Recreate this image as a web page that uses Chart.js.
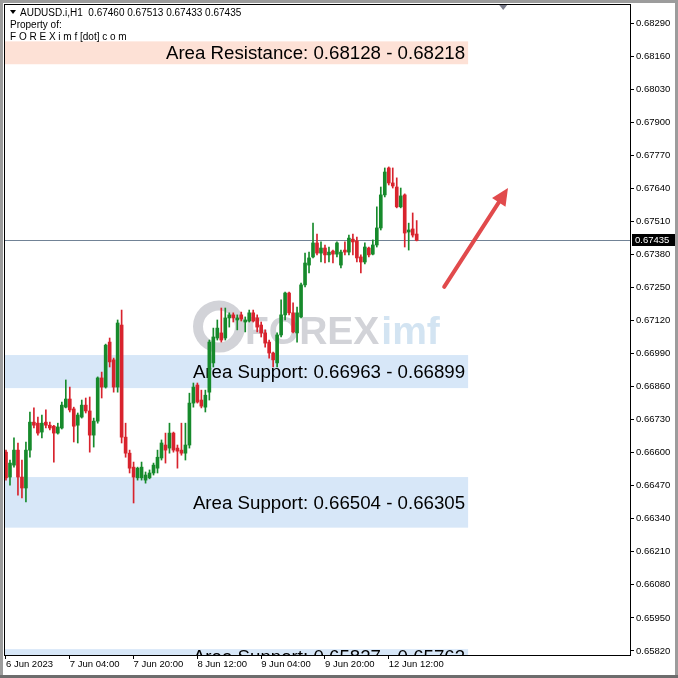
<!DOCTYPE html>
<html>
<head>
<meta charset="utf-8">
<script src="https://cdn.jsdelivr.net/npm/chart.js@4.4.1/dist/chart.umd.min.js"></script>
<style>
html, body { margin: 0; padding: 0; background: #fff; }
canvas { display: block; }
</style>
</head>
<body>
<canvas id="chart" width="678" height="678"></canvas>
<script>
// hourly AUDUSD candles, 6 Jun 12:00 -> 12 Jun 19:00
const opens = [
  0.66602, 0.66504, 0.66551, 0.66610, 0.66504, 0.66461, 0.66610, 0.66720, 0.66716, 0.66681,
  0.66720, 0.66708, 0.66704, 0.66677, 0.66697, 0.66779, 0.66811, 0.66772, 0.66708, 0.66740,
  0.66787, 0.66764, 0.66669, 0.66724, 0.66894, 0.66858, 0.67035, 0.66965, 0.66858, 0.67102,
  0.66661, 0.66598, 0.66543, 0.66501, 0.66501, 0.66492, 0.66501, 0.66520, 0.66539, 0.66579,
  0.66630, 0.66618, 0.66677, 0.66618, 0.66610, 0.66598, 0.66630, 0.66795, 0.66866, 0.66807,
  0.66779, 0.66838, 0.66953, 0.67051, 0.67071, 0.67051, 0.67130, 0.67142, 0.67122, 0.67142,
  0.67114, 0.67118, 0.67150, 0.67130, 0.67102, 0.67071, 0.67035, 0.66992, 0.66953, 0.67063,
  0.67142, 0.67228, 0.67150, 0.67071, 0.67134, 0.67260, 0.67338, 0.67370, 0.67425, 0.67385,
  0.67405, 0.67378, 0.67393, 0.67381, 0.67338, 0.67397, 0.67389, 0.67440, 0.67433, 0.67370,
  0.67350, 0.67405, 0.67381, 0.67417, 0.67484, 0.67614, 0.67720, 0.67661, 0.67645, 0.67567,
  0.67614, 0.67468, 0.67480, 0.67460
];
const highs = [
  0.66610, 0.66571, 0.66658, 0.66638, 0.66571, 0.66642, 0.66760, 0.66776, 0.66740, 0.66748,
  0.66768, 0.66720, 0.66708, 0.66716, 0.66799, 0.66886, 0.66858, 0.66779, 0.66756, 0.66807,
  0.66815, 0.66819, 0.66736, 0.66898, 0.66917, 0.67027, 0.67051, 0.66972, 0.67122, 0.67161,
  0.66716, 0.66610, 0.66563, 0.66543, 0.66563, 0.66524, 0.66532, 0.66559, 0.66610, 0.66650,
  0.66677, 0.66716, 0.66681, 0.66630, 0.66716, 0.66716, 0.66834, 0.66874, 0.66874, 0.66846,
  0.66846, 0.67043, 0.67090, 0.67122, 0.67169, 0.67169, 0.67150, 0.67150, 0.67142, 0.67153,
  0.67134, 0.67161, 0.67161, 0.67142, 0.67114, 0.67083, 0.67043, 0.66996, 0.67071, 0.67201,
  0.67232, 0.67232, 0.67189, 0.67173, 0.67267, 0.67385, 0.67389, 0.67503, 0.67460, 0.67429,
  0.67417, 0.67409, 0.67397, 0.67429, 0.67397, 0.67429, 0.67456, 0.67460, 0.67448, 0.67378,
  0.67425, 0.67409, 0.67437, 0.67567, 0.67645, 0.67720, 0.67724, 0.67720, 0.67681, 0.67641,
  0.67618, 0.67503, 0.67543, 0.67513
];
const lows = [
  0.66492, 0.66472, 0.66543, 0.66433, 0.66422, 0.66406, 0.66582, 0.66697, 0.66669, 0.66658,
  0.66697, 0.66689, 0.66563, 0.66673, 0.66693, 0.66776, 0.66760, 0.66642, 0.66638, 0.66736,
  0.66756, 0.66602, 0.66622, 0.66716, 0.66815, 0.66854, 0.66937, 0.66838, 0.66838, 0.66638,
  0.66582, 0.66520, 0.66402, 0.66492, 0.66492, 0.66480, 0.66497, 0.66512, 0.66520, 0.66571,
  0.66559, 0.66598, 0.66602, 0.66539, 0.66590, 0.66571, 0.66618, 0.66779, 0.66795, 0.66776,
  0.66760, 0.66807, 0.66937, 0.67043, 0.67035, 0.67043, 0.67094, 0.67114, 0.67083, 0.67118,
  0.67075, 0.67114, 0.67114, 0.67075, 0.67055, 0.67015, 0.66972, 0.66937, 0.66937, 0.67055,
  0.67122, 0.67142, 0.67071, 0.67035, 0.67130, 0.67252, 0.67307, 0.67366, 0.67378, 0.67350,
  0.67346, 0.67350, 0.67346, 0.67370, 0.67327, 0.67378, 0.67378, 0.67378, 0.67350, 0.67307,
  0.67342, 0.67370, 0.67378, 0.67409, 0.67476, 0.67606, 0.67653, 0.67641, 0.67563, 0.67563,
  0.67409, 0.67397, 0.67448, 0.67433
];
const closes = [
  0.66501, 0.66559, 0.66610, 0.66504, 0.66461, 0.66610, 0.66720, 0.66708, 0.66677, 0.66716,
  0.66708, 0.66697, 0.66677, 0.66701, 0.66787, 0.66811, 0.66768, 0.66704, 0.66748, 0.66787,
  0.66764, 0.66669, 0.66724, 0.66894, 0.66858, 0.67023, 0.66957, 0.66858, 0.67110, 0.66661,
  0.66598, 0.66539, 0.66504, 0.66539, 0.66543, 0.66512, 0.66520, 0.66551, 0.66582, 0.66638,
  0.66610, 0.66677, 0.66610, 0.66606, 0.66598, 0.66630, 0.66795, 0.66858, 0.66799, 0.66783,
  0.66826, 0.67035, 0.67055, 0.67090, 0.67043, 0.67130, 0.67142, 0.67130, 0.67130, 0.67126,
  0.67122, 0.67150, 0.67118, 0.67094, 0.67071, 0.67031, 0.66992, 0.66965, 0.67063, 0.67142,
  0.67228, 0.67150, 0.67075, 0.67150, 0.67260, 0.67346, 0.67366, 0.67425, 0.67385, 0.67405,
  0.67378, 0.67389, 0.67381, 0.67425, 0.67389, 0.67389, 0.67444, 0.67429, 0.67366, 0.67350,
  0.67409, 0.67378, 0.67417, 0.67484, 0.67614, 0.67704, 0.67661, 0.67649, 0.67567, 0.67610,
  0.67464, 0.67476, 0.67456, 0.67435
];

// trading days shown (day, first hour, last hour)
const sessions = [["6 Jun", 12, 23], ["7 Jun", 0, 23], ["8 Jun", 0, 23], ["9 Jun", 0, 23], ["12 Jun", 0, 19]];
const emptySlots = 53; // MT4 chart shift on the right

const priceTicks = [0.68290, 0.68160, 0.68030, 0.67900, 0.67770, 0.67640, 0.67510, 0.67380, 0.67250,
  0.67120, 0.66990, 0.66860, 0.66730, 0.66600, 0.66470, 0.66340, 0.66210, 0.66080, 0.65950, 0.65820];
const timeTickAt = ["6 Jun 12:00", "7 Jun 04:00", "7 Jun 20:00", "8 Jun 12:00", "9 Jun 04:00", "9 Jun 20:00", "12 Jun 12:00"];
const timeTickText = ["6 Jun 2023", "7 Jun 04:00", "7 Jun 20:00", "8 Jun 12:00", "9 Jun 04:00", "9 Jun 20:00", "12 Jun 12:00"];

const zoneHigh = [0.68218, 0.66984, 0.66504, 0.65827];
const zoneLow = [0.68128, 0.66854, 0.66305, 0.65763];
const zoneText = ["Area Resistance: 0.68128 - 0.68218", "Area Support: 0.66963 - 0.66899",
  "Area Support: 0.66504 - 0.66305", "Area Support: 0.65827 - 0.65763"];
const zoneColor = ["#fde1d6", "#d7e7f8", "#d7e7f8", "#d7e7f8"];
const zoneEnd = 115.9;

const arrowX = [109.9, 125.9];
const arrowY = [0.67252, 0.67641];

const lastPrice = closes[closes.length - 1];

const categories = [];
sessions.forEach(s => {
  for (let h = s[1]; h <= s[2]; h++) {
    categories.push(s[0] + " " + String(h).padStart(2, "0") + ":00");
  }
});
for (let k = 0; k < emptySlots; k++) categories.push("");

const UP = "#168a2b";
const DOWN = "#d8232d";
const candleColors = closes.map((c, i) => c >= opens[i] ? UP : DOWN);

const FONT = "Liberation Sans, Arial, sans-serif";

// 🔥 drawings around the candles
const mtPlugin = {
  id: "mt4",
  beforeDraw(chart) {
    const ctx = chart.ctx;
    ctx.save();
    ctx.fillStyle = "#fff";
    ctx.fillRect(0, 0, chart.width, chart.height);
    ctx.restore();
  },
  beforeDatasetsDraw(chart) {
    const ctx = chart.ctx;
    const ca = chart.chartArea;
    const xs = chart.scales.x;
    const ys = chart.scales.y;
    const xEnd = xs.getPixelForValue(zoneEnd);

    ctx.save();
    ctx.beginPath();
    ctx.rect(ca.left, ca.top, ca.right - ca.left, ca.bottom - ca.top);
    ctx.clip();

    // zones
    zoneHigh.forEach((hi, i) => {
      const y1 = ys.getPixelForValue(hi);
      const y2 = ys.getPixelForValue(zoneLow[i]);
      ctx.fillStyle = zoneColor[i];
      ctx.fillRect(ca.left, y1, xEnd - ca.left, y2 - y1);
    });

    // watermark
    const cx = (ca.left + ca.right) / 2;
    const cy = (ca.top + ca.bottom) / 2;
    ctx.strokeStyle = "#d2d3d8";
    ctx.lineWidth = 10;
    ctx.beginPath();
    ctx.arc(cx - 98, cy - 3, 21, 0, Math.PI * 2);
    ctx.stroke();
    ctx.font = "bold 39px " + FONT;
    ctx.textBaseline = "alphabetic";
    ctx.textAlign = "left";
    ctx.fillStyle = "#d2d3d8";
    ctx.fillText("FOREX", cx - 72, cy + 14);
    const w = ctx.measureText("FOREX").width;
    ctx.fillStyle = "#d3e4f2";
    ctx.fillText("imf", cx - 72 + w + 2, cy + 14);

    // zone labels
    ctx.font = "18.7px " + FONT;
    ctx.fillStyle = "#000";
    ctx.textAlign = "right";
    ctx.textBaseline = "middle";
    zoneText.forEach((t, i) => {
      const ym = (ys.getPixelForValue(zoneHigh[i]) + ys.getPixelForValue(zoneLow[i])) / 2;
      ctx.fillText(t, xEnd - 3, ym + 1);
    });

    // current price line
    const yp = Math.round(ys.getPixelForValue(lastPrice)) + 0.5;
    ctx.strokeStyle = "#718396";
    ctx.lineWidth = 1;
    ctx.beginPath();
    ctx.moveTo(ca.left, yp);
    ctx.lineTo(ca.right, yp);
    ctx.stroke();
    ctx.restore();
  },
  afterDraw(chart) {
    const ctx = chart.ctx;
    const ca = chart.chartArea;
    const xs = chart.scales.x;
    const ys = chart.scales.y;

    ctx.save();
    // arrow
    const x0 = xs.getPixelForValue(arrowX[0]);
    const y0 = ys.getPixelForValue(arrowY[0]);
    const x1 = xs.getPixelForValue(arrowX[1]);
    const y1 = ys.getPixelForValue(arrowY[1]);
    const ang = Math.atan2(y1 - y0, x1 - x0);
    const headLen = 17;
    ctx.strokeStyle = "#e14a4c";
    ctx.fillStyle = "#e14a4c";
    ctx.lineWidth = 4;
    ctx.lineCap = "round";
    ctx.beginPath();
    ctx.moveTo(x0, y0);
    ctx.lineTo(x1 - Math.cos(ang) * (headLen - 3), y1 - Math.sin(ang) * (headLen - 3));
    ctx.stroke();
    ctx.beginPath();
    ctx.moveTo(x1, y1);
    ctx.lineTo(x1 - headLen * Math.cos(ang) + 8 * Math.sin(ang), y1 - headLen * Math.sin(ang) - 8 * Math.cos(ang));
    ctx.lineTo(x1 - headLen * Math.cos(ang) - 8 * Math.sin(ang), y1 - headLen * Math.sin(ang) + 8 * Math.cos(ang));
    ctx.closePath();
    ctx.fill();

    // plot frame
    ctx.strokeStyle = "#000";
    ctx.lineWidth = 1;
    ctx.strokeRect(Math.round(ca.left) + 0.5, Math.round(ca.top) + 0.5,
      Math.round(ca.right - ca.left), Math.round(ca.bottom - ca.top));

    // chart shift marker
    const xm = xs.getPixelForValue(124.7);
    ctx.fillStyle = "#7b7d8c";
    ctx.beginPath();
    ctx.moveTo(xm - 4, ca.top + 1);
    ctx.lineTo(xm + 4, ca.top + 1);
    ctx.lineTo(xm, ca.top + 6);
    ctx.closePath();
    ctx.fill();

    // header
    ctx.fillStyle = "#000";
    ctx.beginPath();
    ctx.moveTo(10, 10);
    ctx.lineTo(16, 10);
    ctx.lineTo(13, 14);
    ctx.closePath();
    ctx.fill();
    ctx.font = "10px " + FONT;
    ctx.textAlign = "left";
    ctx.textBaseline = "middle";
    ctx.fillText("AUDUSD.i,H1  " + [opens, highs, lows, closes].map(a => a[a.length - 1].toFixed(5)).join(" "), 20, 13);
    ctx.fillText("Property of:", 10, 25);
    ctx.fillText("F O R E X i m f [dot] c o m", 10, 37);

    // price tag
    const yp = Math.round(ys.getPixelForValue(lastPrice));
    ctx.fillStyle = "#000";
    ctx.fillRect(ca.right + 2, yp - 6, 44, 12);
    ctx.fillStyle = "#fff";
    ctx.font = "9.5px " + FONT;
    ctx.fillText(lastPrice.toFixed(5), ca.right + 5, yp + 0.5);

    // window frame
    ctx.strokeStyle = "#9c9c9c";
    ctx.lineWidth = 3;
    ctx.strokeRect(1.5, 1.5, chart.width - 3, chart.height - 3);
    ctx.fillStyle = "#6d6d6d";
    ctx.fillRect(0, chart.height - 3, chart.width, 3);
    ctx.restore();
  }
};

const ctx = document.getElementById("chart");

window.myChart = new Chart(ctx, {
  type: "bar",
  data: {
    labels: categories,
    datasets: [
      {
        label: "body",
        data: opens.map((o, i) => [o, closes[i]]),
        backgroundColor: candleColors,
        barThickness: 3,
        minBarLength: 1,
        grouped: false
      },
      {
        label: "wick",
        data: lows.map((l, i) => [l, highs[i]]),
        backgroundColor: candleColors,
        barThickness: 1,
        grouped: false
      }
    ]
  },
  options: {
    responsive: false,
    animation: false,
    layout: { padding: { left: 4, top: 4, right: 0, bottom: 0 } },
    plugins: {
      legend: { display: false },
      tooltip: { enabled: false }
    },
    scales: {
      x: {
        type: "category",
        offset: true,
        afterFit: s => { s.height = 23; s.paddingLeft = 0; s.paddingRight = 0; },
        grid: {
          drawOnChartArea: false,
          offset: false,
          tickLength: 4,
          color: c => timeTickAt.includes(categories[c.index]) ? "#000" : "rgba(0,0,0,0)"
        },
        border: { color: "#000" },
        ticks: {
          autoSkip: false,
          maxRotation: 0,
          minRotation: 0,
          align: "start",
          padding: 0,
          color: "#000",
          font: { family: FONT, size: 9.5 },
          callback: function (v, i) {
            const k = timeTickAt.indexOf(categories[i]);
            return k >= 0 ? timeTickText[k] : "";
          }
        }
      },
      y: {
        position: "right",
        min: 0.65804,
        max: 0.68365,
        afterFit: s => { s.width = 48; s.paddingTop = 0; s.paddingBottom = 0; },
        afterBuildTicks: s => { s.ticks = priceTicks.map(v => ({ value: v })); },
        grid: { drawOnChartArea: false, tickLength: 4, color: "#000" },
        border: { color: "#000" },
        ticks: {
          padding: 2,
          color: "#000",
          font: { family: FONT, size: 9.5 },
          callback: v => v.toFixed(5)
        }
      }
    }
  },
  plugins: [mtPlugin]
});
</script>
</body>
</html>
